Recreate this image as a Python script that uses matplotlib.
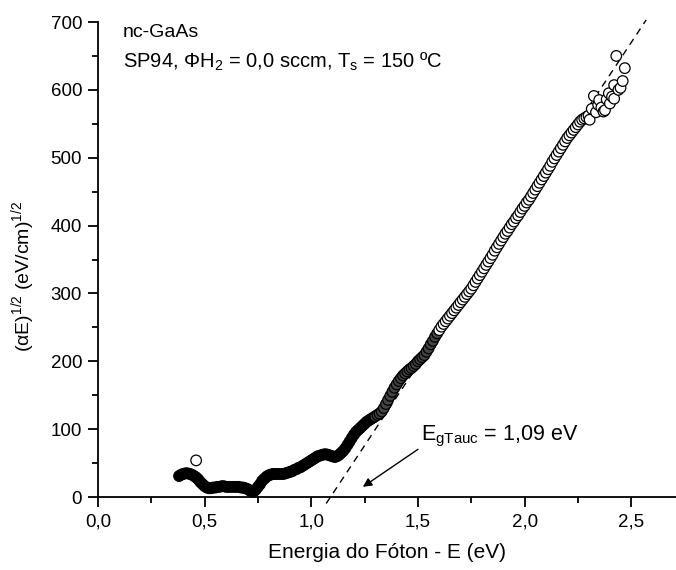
import numpy as np
import matplotlib
matplotlib.use("Agg")
from matplotlib import pyplot as plt
from matplotlib.ticker import MultipleLocator, FuncFormatter

# photon energy (eV) and Tauc values (alpha*E)^1/2
energy = [
    0.38, 0.39, 0.40, 0.41, 0.42, 0.43, 0.44, 0.45, 0.46, 0.47,
    0.48, 0.49, 0.50, 0.51, 0.52, 0.53, 0.54, 0.55, 0.56, 0.57,
    0.58, 0.59, 0.60, 0.61, 0.62, 0.63, 0.64, 0.65, 0.66, 0.67,
    0.68, 0.69, 0.70, 0.71, 0.72, 0.73, 0.74, 0.75, 0.76, 0.77,
    0.78, 0.79, 0.80, 0.81, 0.82, 0.83, 0.84, 0.85, 0.86, 0.87,
    0.88, 0.89, 0.90, 0.91, 0.92, 0.93, 0.94, 0.95, 0.96, 0.97,
    0.98, 0.99, 1.00, 1.01, 1.02, 1.03, 1.04, 1.05, 1.06, 1.07,
    1.08, 1.09, 1.10, 1.11, 1.12, 1.13, 1.14, 1.15, 1.16, 1.17,
    1.18, 1.19, 1.20, 1.21, 1.22, 1.23, 1.24, 1.25, 1.26, 1.27,
    1.28, 1.29, 1.30, 1.31, 1.32, 1.33, 1.34, 1.35, 1.36, 1.37,
    1.38, 1.39, 1.40, 1.41, 1.42, 1.43, 1.44, 1.45, 1.46, 1.47,
    1.48, 1.49, 1.50, 1.51, 1.52, 1.53, 1.54, 1.55, 1.56, 1.57,
    1.58, 1.59, 1.60, 1.61, 1.62, 1.63, 1.64, 1.65, 1.66, 1.67,
    1.68, 1.69, 1.70, 1.71, 1.72, 1.73, 1.74, 1.75, 1.76, 1.77,
    1.78, 1.79, 1.80, 1.81, 1.82, 1.83, 1.84, 1.85, 1.86, 1.87,
    1.88, 1.89, 1.90, 1.91, 1.92, 1.93, 1.94, 1.95, 1.96, 1.97,
    1.98, 1.99, 2.00, 2.01, 2.02, 2.03, 2.04, 2.05, 2.06, 2.07,
    2.08, 2.09, 2.10, 2.11, 2.12, 2.13, 2.14, 2.15, 2.16, 2.17,
    2.18, 2.19, 2.20, 2.21, 2.22, 2.23, 2.24, 2.25, 2.26, 2.27,
    2.28, 2.29, 2.300, 2.305, 2.315, 2.325, 2.335, 2.345, 2.350, 2.360,
    2.370, 2.377, 2.385, 2.395, 2.400, 2.410, 2.420, 2.420, 2.430, 2.440,
    2.450, 2.460, 2.470, 0.46,
]
tauc = [
    31, 33, 34, 35, 35, 34, 33, 31, 29, 26,
    22, 19, 16, 14, 13, 13, 14, 14, 15, 15,
    16, 16, 15, 15, 15, 15, 15, 15, 15, 14,
    14, 13, 12, 10, 8, 8, 11, 15, 19, 24,
    27, 30, 32, 33, 34, 34, 34, 34, 34, 34,
    35, 36, 37, 38, 40, 41, 43, 44, 46, 48,
    50, 52, 54, 56, 58, 60, 61, 62, 63, 63,
    62, 61, 60, 59, 60, 62, 65, 68, 72, 77,
    82, 87, 92, 96, 99, 102, 105, 108, 111, 113,
    115, 117, 119, 121, 123, 126, 131, 137, 143, 149,
    155, 161, 166, 171, 175, 179, 182, 185, 188, 190,
    193, 196, 200, 203, 206, 209, 214, 219, 225, 230,
    236, 241, 246, 251, 255, 259, 263, 267, 271, 275,
    279, 283, 287, 291, 295, 299, 303, 307, 312, 317,
    322, 327, 332, 337, 342, 347, 352, 357, 363, 368,
    373, 378, 383, 388, 392, 397, 402, 406, 411, 415,
    420, 425, 429, 434, 438, 443, 448, 453, 458, 463,
    468, 473, 478, 483, 488, 494, 499, 504, 509, 514,
    519, 524, 529, 533, 537, 541, 545, 549, 553, 556,
    558, 560, 562, 556, 572, 591, 567, 578, 585, 574,
    568, 570, 586, 595, 580, 590, 607, 587, 650, 600,
    603, 613, 632, 54,
]

# linear fit of the absorption edge
e_gap = 1.09
slope = 475
fit_x = [1.07, 2.57]

plt.rcParams['font.family'] = ['Liberation Sans', 'DejaVu Sans']
plt.rcParams['mathtext.fontset'] = 'custom'
plt.rcParams['mathtext.rm'] = 'Liberation Sans'
plt.rcParams['mathtext.it'] = 'Liberation Sans:italic'
plt.rcParams['mathtext.bf'] = 'Liberation Sans:bold'

fig = plt.figure(figsize=(6.76, 5.70), dpi=100)
ax = fig.add_axes([0.1450, 0.128, 0.855, 0.8334])

# the measured points are so dense at low energy that they merge into a solid band
e = np.array(energy)
faces = np.where(e < 1.3, 'black', np.where(e < 1.6, '#444444', 'white'))
faces[-1] = 'white'
ax.scatter(energy, tauc, s=58, facecolors=faces, edgecolors='black',
           linewidths=0.9, clip_on=False, zorder=3)

fit_y = [slope * (x - e_gap) for x in fit_x]
ax.plot(fit_x, fit_y, '--', color='black', lw=1.0, dashes=(5, 4),
        clip_on=False, zorder=2)

ax.set_xlim(0, 2.71)
ax.set_ylim(0, 700)

ax.spines['top'].set_visible(False)
ax.spines['right'].set_visible(False)
ax.spines['left'].set_linewidth(1.3)
ax.spines['bottom'].set_linewidth(1.3)

ax.xaxis.set_major_locator(MultipleLocator(0.5))
ax.xaxis.set_minor_locator(MultipleLocator(0.25))
ax.yaxis.set_major_locator(MultipleLocator(100))
ax.yaxis.set_minor_locator(MultipleLocator(50))
ax.xaxis.set_major_formatter(FuncFormatter(lambda v, p: f"{v:.1f}".replace('.', ',')))
ax.tick_params(which='major', direction='out', length=7.5, width=1.3, labelsize=13.5, pad=4)
ax.tick_params(which='minor', direction='out', length=4.5, width=1.3)

ax.set_xlabel('Energia do Fóton - E (eV)', fontsize=15, labelpad=9)
ax.set_ylabel('(αE)$^{1/2}$ (eV/cm)$^{1/2}$', fontsize=14)
ax.yaxis.set_label_coords(-0.105, 0.465)

ax.text(0.115, 684, 'nc-GaAs', fontsize=14, va='center', ha='left')
ax.text(0.115, 641, r'SP94, $\Phi$H$_2$ = 0,0 sccm, T$_\mathrm{s}$ = 150 ºC',
        fontsize=14.5, va='center', ha='left')

ax.annotate(r'E$_\mathrm{gTauc}$ = 1,09 eV', xy=(1.242, 15), xytext=(1.515, 83),
            fontsize=15.5, ha='left', va='baseline',
            arrowprops=dict(arrowstyle='-|>', color='black', lw=1.0,
                            mutation_scale=13, shrinkA=0, shrinkB=0,
                            relpos=(-0.02, 0.0)))

fig.savefig('out.png', dpi=100)
